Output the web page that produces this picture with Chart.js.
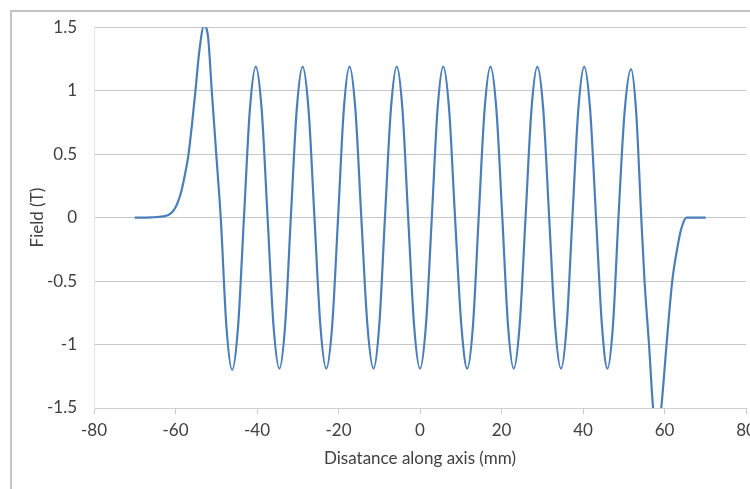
<!DOCTYPE html>
<html>
  <head>
    <title>Field along axis</title>
    <script src="https://cdn.jsdelivr.net/npm/chart.js@4/dist/chart.umd.min.js"></script>
    <style>
      body { margin: 0; background: #ffffff; overflow: hidden; width: 750px; height: 489px; position: relative; }
      .frame { position: absolute; left: 10px; top: 10px; width: 800px; height: 600px; border-left: 2px solid #c4c4c4; border-top: 2px solid #c4c4c4; }
      #fieldChart { position: absolute; left: 0; top: 0; }
    </style>
  </head>
  <body>
    <div class="frame"></div>
    <canvas id="fieldChart" width="766" height="489"></canvas>
    <script>
      // distance along axis (mm)
      const distance = [
        -70, -66, -63, -61.3, -60, -58.8, -57.8, -56.8, -55.9, -55.1, -54.2, -53.0, -52.0, -51.1, -50.0, -48.9,
        -47.5, -46.1, -44.65, -43.2, -41.75, -40.3, -38.85, -37.4, -35.95, -34.5, -33.1, -31.7, -30.25, -28.8,
        -27.35, -25.9, -24.45, -23.0, -21.55, -20.1, -18.7, -17.3, -15.85, -14.4, -12.9, -11.4, -10.0, -8.6,
        -7.15, -5.7, -4.3, -2.9, -1.45, 0, 1.45, 2.9, 4.3, 5.7, 7.15, 8.6, 10.15, 11.6, 13.0, 14.4, 15.85,
        17.3, 18.75, 20.2, 21.6, 23.0, 24.45, 25.9, 27.35, 28.8, 30.25, 31.7, 33.15, 34.6, 36.0, 37.4, 38.85,
        40.3, 41.75, 43.2, 44.65, 46.0, 47.35, 48.7, 50.2, 51.8, 53.05, 54.3, 55.1, 56.2, 57.2, 58.2, 59.2,
        60.5, 61.9, 63.2, 64.1, 65.4, 67, 70.1
      ];
      // field (T)
      const field = [
        0, 0.002, 0.01, 0.03, 0.08, 0.18, 0.32, 0.5, 0.75, 1.0, 1.3, 1.51, 1.42, 1.0, 0.5, 0,
        -0.86, -1.2, -0.86, 0, 0.85, 1.19, 0.85, 0, -0.85, -1.19, -0.85, 0, 0.85, 1.19,
        0.85, 0, -0.85, -1.19, -0.85, 0, 0.85, 1.19, 0.85, 0, -0.85, -1.19, -0.85, 0,
        0.85, 1.19, 0.85, 0, -0.85, -1.19, -0.85, 0, 0.85, 1.19, 0.85, 0, -0.85, -1.19, -0.85, 0, 0.85,
        1.19, 0.85, 0, -0.85, -1.19, -0.85, 0, 0.85, 1.19, 0.85, 0, -0.85, -1.19, -0.85, 0, 0.85,
        1.19, 0.85, 0, -0.85, -1.19, -0.85, 0, 0.83, 1.17, 0.83, 0, -0.5, -1.0, -1.5, -1.72, -1.5,
        -1.0, -0.5, -0.23, -0.09, 0, 0, 0
      ];
      const xTicks = [-80, -60, -40, -20, 0, 20, 40, 60, 80];
      const yTicks = ['-1.5', '-1', '-0.5', '0', '0.5', '1', '1.5'];

      const points = distance.map((d, i) => ({ x: d, y: field[i] }));
      const fontFamily = 'Lato, "Open Sans", sans-serif';

      const fieldChart = new Chart(document.getElementById('fieldChart'), {
        type: 'line',
        data: {
          datasets: [{
            label: 'Field',
            data: points,
            borderColor: '#4a7ebb',
            borderWidth: 2.2,
            pointRadius: 0,
            fill: false,
            cubicInterpolationMode: 'monotone',
            clip: 0
          }]
        },
        options: {
          responsive: false,
          animation: false,
          devicePixelRatio: 1,
          layout: { padding: { left: 0, right: 20, top: 27, bottom: 0 } },
          plugins: {
            legend: { display: false },
            tooltip: { enabled: false }
          },
          scales: {
            x: {
              type: 'linear',
              min: -80,
              max: 80,
              afterBuildTicks: (s) => { s.ticks = xTicks.map(v => ({ value: v })); },
              afterFit: (s) => { s.height = 81; },
              ticks: { color: '#404040', font: { family: fontFamily, size: 17 }, padding: 6, maxRotation: 0 },
              grid: { drawOnChartArea: false, drawTicks: true, tickLength: 6, color: '#c8c8c8' },
              border: { color: '#d0d0d0' },
              title: {
                display: true,
                text: 'Disatance along axis (mm)',
                color: '#404040',
                font: { family: fontFamily, size: 17 },
                padding: { top: 4, bottom: 20 }
              }
            },
            y: {
              min: -1.5,
              max: 1.5,
              afterBuildTicks: (s) => { s.ticks = yTicks.map(t => ({ value: parseFloat(t) })); },
              afterFit: (s) => { s.width = 94; },
              ticks: {
                color: '#404040',
                font: { family: fontFamily, size: 17 },
                padding: 17,
                callback: (v) => yTicks.find(t => parseFloat(t) === v)
              },
              grid: { color: '#c8c8c8', drawTicks: false },
              border: { color: '#e6e6e6' },
              title: {
                display: true,
                text: 'Field (T)',
                color: '#404040',
                font: { family: fontFamily, size: 17 },
                padding: { top: 27, bottom: 0 }
              }
            }
          }
        }
      });
    </script>
  </body>
</html>
